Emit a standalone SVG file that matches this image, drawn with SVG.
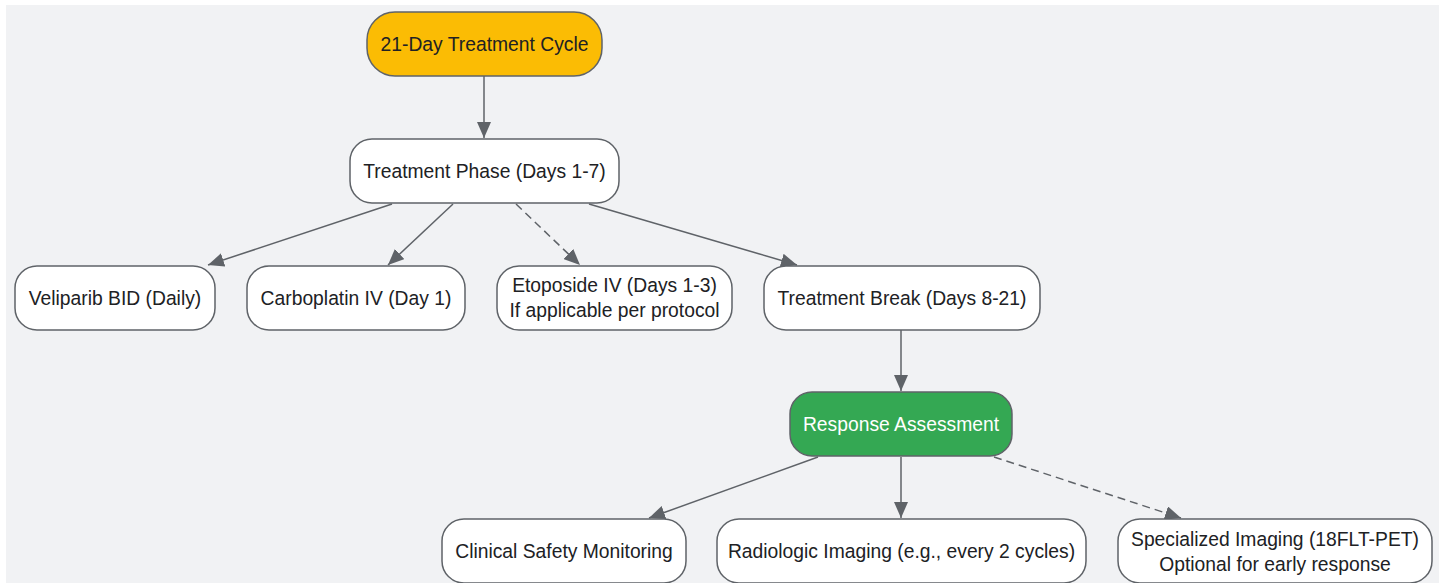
<svg xmlns="http://www.w3.org/2000/svg" width="1442" height="583" viewBox="0 0 1442 583">
<defs>
<marker id="arr" viewBox="0 0 16 14" refX="16" refY="7" markerWidth="16" markerHeight="14" markerUnits="userSpaceOnUse" orient="auto">
<path d="M0,0 L16,7 L0,14 Z" fill="#5f6368"/>
</marker>
</defs>
<style>
.n rect{fill:#ffffff;stroke:#5f6368;stroke-width:1.5}
.n text{font-family:"Liberation Sans",Arial,sans-serif;font-size:19.3px;fill:#202124;text-anchor:middle;dominant-baseline:central}
#cycle rect{fill:#fbbc04}
#resp rect{fill:#34a853}
#resp text{fill:#ffffff}
.e path{fill:none;stroke:#5f6368;stroke-width:1.5;marker-end:url(#arr)}
.e .d{stroke-dasharray:8,5}
</style>
<rect x="0" y="0" width="1442" height="583" fill="#ffffff"/>
<rect x="6" y="5" width="1433" height="578" fill="#f1f2f4"/>
<g class="e" id="connectors">
<path d="M484,76 L484,138"/>
<path d="M392,204 L208,265"/>
<path d="M453,204 L388,265"/>
<path class="d" d="M516,204 L580,265"/>
<path d="M589,204 L797,265"/>
<path d="M901,330 L901,391"/>
<path d="M818,457 L649,518"/>
<path d="M901,457 L901,518"/>
<path class="d" d="M994,457 L1181,518"/>
</g>
<g class="n" id="cycle"><rect x="367" y="12" width="235" height="64" rx="28"/><text x="484.5" y="44">21-Day Treatment Cycle</text></g>
<g class="n" id="phase"><rect x="350" y="139" width="269" height="64" rx="22"/><text x="484.5" y="171">Treatment Phase (Days 1-7)</text></g>
<g class="n" id="veliparib"><rect x="15" y="266" width="200" height="64" rx="22"/><text x="115" y="298">Veliparib BID (Daily)</text></g>
<g class="n" id="carboplatin"><rect x="247" y="266" width="218" height="64" rx="22"/><text x="356" y="298">Carboplatin IV (Day 1)</text></g>
<g class="n" id="etoposide"><rect x="497" y="266" width="235" height="64" rx="22"/><text x="614.5" y="285">Etoposide IV (Days 1-3)</text><text x="614.5" y="310">If applicable per protocol</text></g>
<g class="n" id="break"><rect x="764" y="266" width="276" height="64" rx="22"/><text x="902" y="298">Treatment Break (Days 8-21)</text></g>
<g class="n" id="resp"><rect x="790" y="392" width="222" height="64" rx="22"/><text x="901" y="424">Response Assessment</text></g>
<g class="n" id="clinical"><rect x="442" y="519" width="244" height="64" rx="22"/><text x="564" y="551">Clinical Safety Monitoring</text></g>
<g class="n" id="radiologic"><rect x="717" y="519" width="369" height="64" rx="22"/><text x="901.5" y="551">Radiologic Imaging (e.g., every 2 cycles)</text></g>
<g class="n" id="specialized"><rect x="1118" y="519" width="314" height="64" rx="22"/><text x="1275" y="539">Specialized Imaging (18FLT-PET)</text><text x="1275" y="564">Optional for early response</text></g>
</svg>
